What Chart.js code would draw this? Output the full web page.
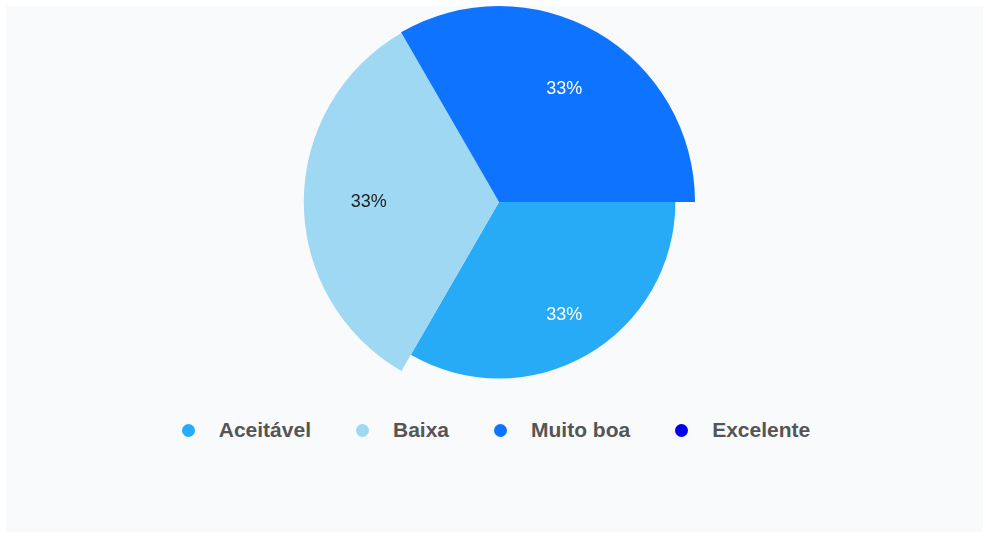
<!DOCTYPE html>
<html>
<head>
<meta charset="utf-8">
<script src="https://cdn.jsdelivr.net/npm/chart.js@4.4.1/dist/chart.umd.min.js"></script>
<style>
  html, body { margin: 0; padding: 0; background: #ffffff; }
  #panel { position: absolute; left: 6px; top: 6px; width: 977px; height: 526px; background: #f9fafc; }
  #wrap { position: absolute; left: 0; top: 0; width: 986px; height: 404px; }
  #legend { position: absolute; left: 0; top: 418px; width: 992px; display: flex; justify-content: center;
            font-family: "Liberation Sans", Arial, sans-serif; font-weight: bold; font-size: 21px; color: #555555; }
  .item { display: flex; align-items: center; margin: 0 22.5px; height: 24px; }
  .dot { width: 13px; height: 13px; border-radius: 50%; margin-right: 24px; }
</style>
</head>
<body>
<div id="panel"></div>
<div id="wrap"><canvas id="c"></canvas></div>
<div id="legend"></div>
<script>
// Data
const categories = ['Aceitável', 'Baixa', 'Muito boa', 'Excelente'];
const radiusValues = [90, 99.6, 100, 0];     // relative outer radius of each slice
const percentValues = [33, 33, 33, 0];       // shown labels (%)
const sliceAngles = [120, 120, 120, 0.001];  // degrees per slice
const colors = ['#28abf7', '#9fd8f2', '#0e74ff', '#0000ee'];
const labelColors = ['#ffffff', '#222222', '#ffffff', '#ffffff'];

const labelPlugin = {
  id: 'pctLabels',
  afterDatasetsDraw(chart) {
    const ctx = chart.ctx;
    const meta = chart.getDatasetMeta(0);
    const scale = chart.scales.r;
    const rLabel = scale.drawingArea * 0.665;
    ctx.save();
    ctx.font = '18px "Liberation Sans", Arial, sans-serif';
    ctx.textAlign = 'center';
    ctx.textBaseline = 'middle';
    meta.data.forEach((arc, i) => {
      if (!percentValues[i]) return;
      const mid = (arc.startAngle + arc.endAngle) / 2;
      const x = arc.x + Math.cos(mid) * rLabel;
      const y = arc.y + Math.sin(mid) * rLabel;
      ctx.fillStyle = labelColors[i];
      ctx.fillText(percentValues[i] + '%', x, y);
    });
    ctx.restore();
  }
};

new Chart(document.getElementById('c'), {
  type: 'polarArea',
  data: {
    labels: categories,
    datasets: [{
      data: radiusValues,
      backgroundColor: colors,
      borderWidth: 0,
      angle: sliceAngles
    }]
  },
  options: {
    responsive: true,
    maintainAspectRatio: false,
    animation: false,
    layout: { padding: { left: 13, top: 6, bottom: 6, right: 0 } },
    scales: {
      r: { display: false, min: 0, max: 100, startAngle: 90 }
    },
    plugins: { legend: { display: false }, tooltip: { enabled: false } }
  },
  plugins: [labelPlugin]
});

const legend = document.getElementById('legend');
categories.forEach((name, i) => {
  const item = document.createElement('div');
  item.className = 'item';
  const dot = document.createElement('span');
  dot.className = 'dot';
  dot.style.background = colors[i];
  const txt = document.createElement('span');
  txt.textContent = name;
  item.appendChild(dot);
  item.appendChild(txt);
  legend.appendChild(item);
});
</script>
</body>
</html>
